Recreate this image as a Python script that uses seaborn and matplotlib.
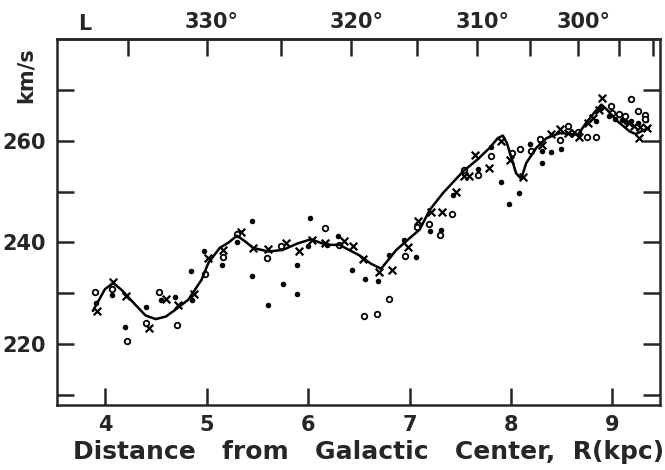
import numpy as np
import pandas as pd
import seaborn as sns
import matplotlib
matplotlib.use("Agg")
import matplotlib.pyplot as plt
from matplotlib.transforms import ScaledTranslation

# crosses
cross_r = [3.92, 4.08, 4.21, 4.43, 4.60, 4.72, 4.88, 5.01, 5.16, 5.34, 5.46, 5.61, 5.78, 5.91,
           6.04, 6.17, 6.35, 6.44, 6.54, 6.70, 6.83, 6.99, 7.08, 7.21, 7.32, 7.46, 7.54, 7.59,
           7.65, 7.78, 7.90, 7.99, 8.12, 8.31, 8.39, 8.48, 8.56, 8.63, 8.67, 8.76, 8.81, 8.87,
           8.90, 9.16, 9.21, 9.26, 9.27, 9.34]
cross_v = [226.4, 232.1, 229.4, 223.1, 228.9, 227.6, 229.9, 237.0, 238.5, 242.0, 238.9, 238.7, 239.9, 238.2,
           240.4, 239.9, 240.3, 239.3, 236.7, 234.2, 234.6, 239.0, 244.1, 246.0, 246.0, 250.0, 253.1, 253.1,
           257.2, 254.7, 259.9, 256.1, 252.9, 259.2, 261.4, 262.3, 261.6, 261.6, 260.8, 263.5, 264.5, 266.1,
           268.3, 263.5, 262.8, 260.5, 262.6, 262.5]

# filled dots
dot_r = [3.91, 4.07, 4.20, 4.40, 4.55, 4.69, 4.85, 4.86, 4.98, 5.15, 5.30, 5.45, 5.45, 5.61,
         5.75, 5.89, 5.89, 6.00, 6.02, 6.19, 6.30, 6.43, 6.56, 6.69, 6.80, 6.95, 7.06, 7.20,
         7.31, 7.43, 7.67, 7.80, 7.90, 7.98, 8.08, 8.19, 8.31, 8.31, 8.39, 8.49, 8.84, 8.89,
         8.97, 9.02, 9.09, 9.13, 9.18, 9.25, 9.33]
dot_v = [228.0, 229.7, 223.4, 227.2, 228.7, 229.2, 234.4, 228.6, 238.3, 235.6, 240.0, 244.1, 233.3, 227.7,
         231.8, 235.6, 229.9, 239.3, 244.8, 239.4, 241.2, 234.5, 232.8, 232.4, 237.6, 240.5, 237.2, 242.3,
         242.5, 249.4, 254.4, 258.7, 251.9, 247.5, 249.7, 259.3, 257.9, 255.6, 257.7, 258.4, 263.8, 266.4,
         264.8, 264.3, 264.1, 263.7, 263.8, 263.5, 264.1]

# open circles
ring_r = [3.90, 4.07, 4.22, 4.40, 4.53, 4.71, 4.99, 5.16, 5.30, 5.60, 5.73, 6.17, 6.31, 6.55,
          6.68, 6.80, 6.96, 7.07, 7.19, 7.30, 7.42, 7.54, 7.67, 7.80, 8.01, 8.09, 8.20, 8.29,
          8.48, 8.56, 8.66, 8.75, 8.84, 8.99, 9.00, 9.06, 9.12, 9.18, 9.25, 9.32, 9.32]
ring_v = [230.2, 230.9, 220.5, 224.1, 230.3, 223.8, 233.8, 237.1, 241.7, 237.0, 239.2, 242.8, 239.4, 225.6,
          225.9, 228.8, 237.4, 243.1, 243.6, 241.4, 245.6, 254.2, 253.2, 257.0, 257.6, 258.4, 258.0, 260.3,
          260.2, 262.8, 261.8, 260.8, 260.8, 266.9, 265.4, 265.3, 264.9, 268.1, 265.8, 265.0, 264.3]

# smooth curve
curve_r = [3.88, 3.95, 4.00, 4.08, 4.16, 4.30, 4.40, 4.50, 4.60, 4.69, 4.82, 4.95, 5.02, 5.13,
           5.22, 5.30, 5.38, 5.46, 5.61, 5.75, 5.90, 6.03, 6.18, 6.31, 6.51, 6.62, 6.72, 6.87,
           7.00, 7.10, 7.20, 7.33, 7.53, 7.67, 7.79, 7.87, 7.92, 7.96, 8.00, 8.05, 8.10, 8.15,
           8.25, 8.35, 8.48, 8.66, 8.74, 8.82, 8.89, 8.95, 9.05, 9.17, 9.23, 9.30, 9.36]
curve_v = [226.5, 229.0, 230.8, 232.0, 230.7, 227.7, 225.6, 224.9, 225.4, 226.7, 228.7, 232.6, 236.0, 238.9,
           240.0, 241.3, 240.2, 238.9, 238.2, 238.5, 239.8, 240.6, 239.5, 239.5, 237.4, 235.8, 234.8, 238.5,
           240.8, 242.5, 246.4, 249.7, 254.0, 256.3, 258.6, 260.5, 261.0, 259.5, 256.9, 253.6, 252.5, 255.6,
           258.6, 260.5, 261.5, 261.2, 263.5, 265.5, 267.1, 266.0, 263.8, 261.8, 261.3, 262.0, 262.5]

x_ticks = [4, 5, 6, 7, 8, 9]
y_ticks = [210, 220, 230, 240, 250, 260, 270]
y_labels = ["", "220", "", "240", "", "260", ""]
lon_ticks = [335, 330, 325, 320, 315, 310, 305, 300, 295, 290]
lon_labels = ["", "330°", "", "320°", "", "310°", "", "300°", "", ""]
R0 = 10.0  # kpc

sns.set_style("ticks")
plt.rcParams['font.family'] = ['DejaVu Sans']
plt.rcParams['font.weight'] = 'bold'

fig = plt.figure(figsize=(6.65, 4.70), dpi=100)
ax = fig.add_axes([57/665, 65/470, 603/665, 366/470])

sns.lineplot(x=curve_r, y=curve_v, ax=ax, color="black", lw=1.8, sort=False, estimator=None)
sns.scatterplot(x=cross_r, y=cross_v, ax=ax, marker="x", color="black", s=30, linewidth=1.6)
sns.scatterplot(x=dot_r, y=dot_v, ax=ax, marker="o", color="black", s=16, linewidth=0)
sns.scatterplot(x=ring_r, y=ring_v, ax=ax, marker="o", facecolor="white", edgecolor="black",
                s=16, linewidth=1.3)

ax.set_xlim(3.527, 9.468)
ax.set_ylim(208.0, 280.0)
ax.set_xticks(x_ticks)
ax.set_yticks(y_ticks)
ax.set_yticklabels(y_labels)
ax.tick_params(direction="in", length=12, width=1.8, labelsize=15, right=True, pad=8)
ax.tick_params(axis="x", pad=7)
for s in ax.spines.values():
    s.set_linewidth(1.8)

top = ax.secondary_xaxis("top", functions=(
    lambda r: 360 - np.degrees(np.arcsin(np.clip(np.asarray(r) / R0, -1, 1))),
    lambda l: R0 * np.sin(np.radians(360 - np.asarray(l)))))
top.set_xticks(lon_ticks)
top.set_xticklabels(lon_labels)
top.tick_params(direction="in", length=12, width=1.8, labelsize=15, pad=5)
top.spines["top"].set_linewidth(1.8)
# digits centred on the tick, degree sign hangs to the right
for lbl in top.get_xticklabels():
    lbl.set_transform(lbl.get_transform() + ScaledTranslation(4/72, 0, fig.dpi_scale_trans))

fig.text(85/665, 1 - 24/470, "L", fontsize=15, ha="center", va="center")
fig.text(26/665, 1 - 75/470, "km/s", fontsize=15, rotation=90, ha="center", va="center")
fig.text(369/665, 1 - 452/470, "Distance   from   Galactic   Center,  R(kpc)", fontsize=18,
         ha="center", va="center")

fig.savefig("out.png", dpi=100)
